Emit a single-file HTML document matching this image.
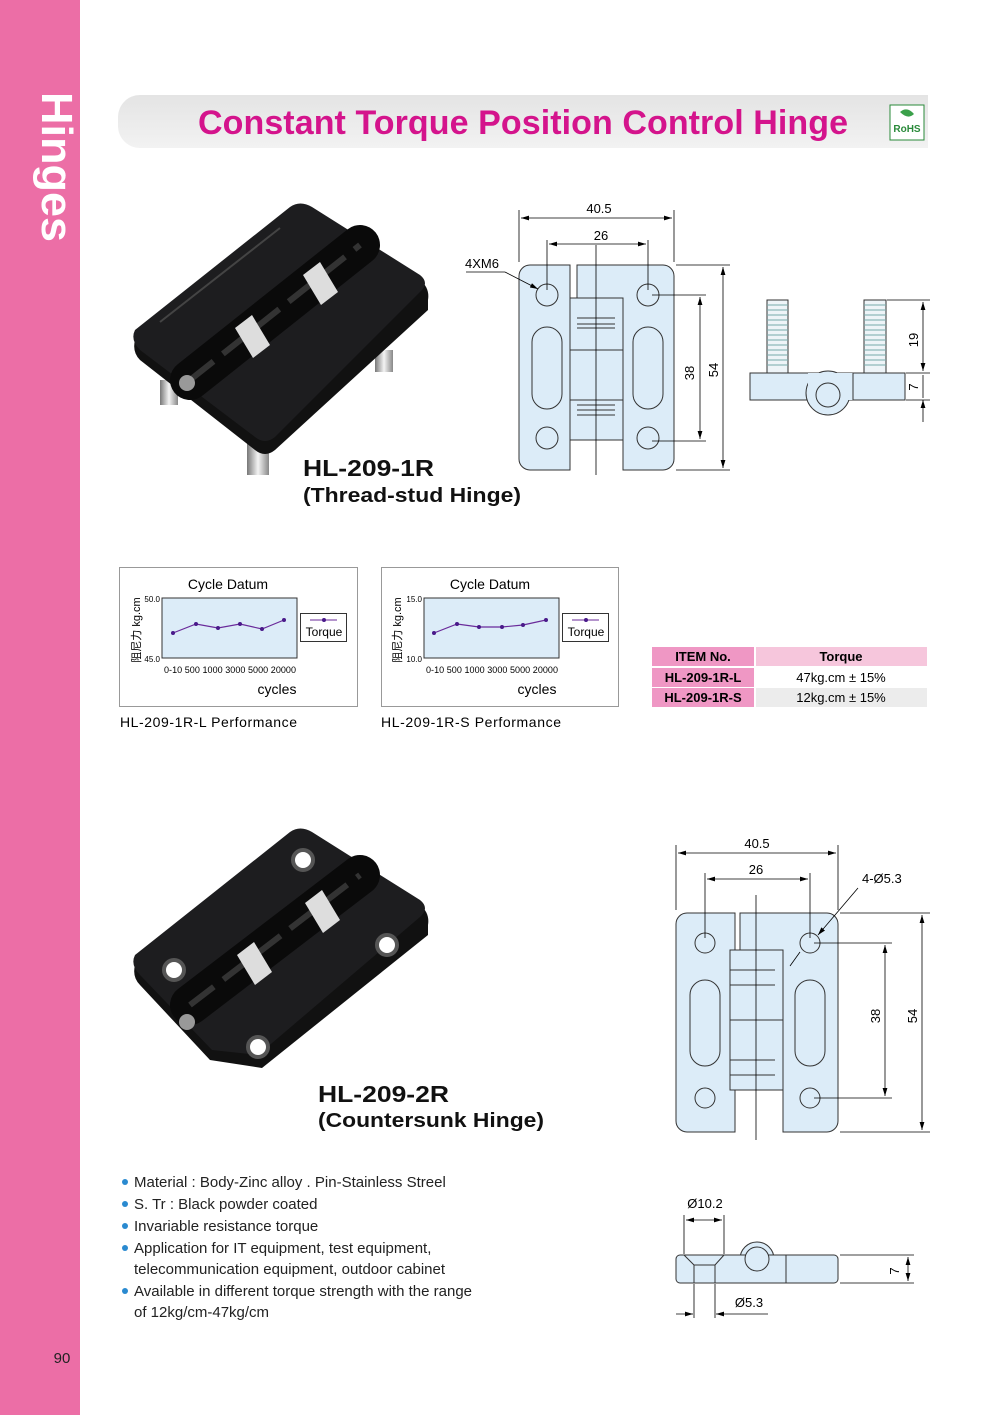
<!DOCTYPE html>
<html><head><meta charset="utf-8"><style>
html,body{margin:0;padding:0;background:#fff}
body{width:1000px;height:1415px;overflow:hidden;font-family:"Liberation Sans","Noto Sans CJK SC",sans-serif}
</style></head><body>
<svg width="1000" height="1415" viewBox="0 0 1000 1415" xmlns="http://www.w3.org/2000/svg" font-family="Liberation Sans, Noto Sans CJK SC, sans-serif">
<defs>
<linearGradient id="hg" x1="0" y1="0" x2="0" y2="1"><stop offset="0" stop-color="#e4e4e4"/><stop offset="1" stop-color="#f2f2f2"/></linearGradient>
<linearGradient id="sil" x1="0" y1="0" x2="1" y2="0"><stop offset="0" stop-color="#777"/><stop offset=".5" stop-color="#f4f4f4"/><stop offset="1" stop-color="#888"/></linearGradient>
<marker id="a" viewBox="0 0 10 6" refX="10" refY="3" markerWidth="10" markerHeight="6" orient="auto-start-reverse"><path d="M0,0L10,3L0,6z" fill="#000"/></marker>
</defs>
<rect x="0" y="0" width="80" height="1415" fill="#ec6ea6"/>
<text transform="translate(42,92) rotate(90)" font-size="44" font-weight="bold" fill="#fff" textLength="150" lengthAdjust="spacingAndGlyphs">Hinges</text>
<text x="62" y="1363" font-size="15" text-anchor="middle" fill="#222">90</text>
<path d="M140,95 H928 V148 H140 A22,22 0 0 1 118,126 V117 A22,22 0 0 1 140,95Z" fill="url(#hg)"/>
<text x="523" y="134" font-size="34" font-weight="bold" fill="#d4148c" text-anchor="middle" textLength="650">Constant Torque Position Control Hinge</text>
<rect x="890" y="105" width="34" height="35" fill="#fff" stroke="#2a8a3a" stroke-width="1"/>
<path d="M900,112 q7,-6 14,2 q-6,6 -14,-2z" fill="#3aa04a"/>
<text x="907" y="132" font-size="10" font-weight="bold" fill="#2a8a3a" text-anchor="middle">RoHS</text>

<g>
<rect x="247" y="440" width="22" height="35" fill="url(#sil)"/>
<rect x="160" y="380" width="18" height="25" fill="url(#sil)"/>
<rect x="375" y="350" width="18" height="22" fill="url(#sil)"/>
<path d="M135,340 L290,212 Q300,205 312,212 L420,280 Q430,288 428,300 L428,310 L275,450 Q265,458 255,450 L140,360 Q132,352 135,340Z" fill="#111"/>
<path d="M135,330 L290,207 Q300,200 312,207 L420,275 Q430,283 420,292 L275,437 Q265,445 255,437 L140,350 Q130,340 135,330Z" fill="#1d1d1f"/>
<line x1="160" y1="322" x2="280" y2="228" stroke="#444" stroke-width="2"/>
<line x1="190" y1="380" x2="360" y2="245" stroke="#0a0a0a" stroke-width="40" stroke-linecap="round"/>
<line x1="190" y1="380" x2="360" y2="245" stroke="#333" stroke-width="6" stroke-dasharray="30 12"/>
<polygon points="235,328 252,315 270,345 253,358" fill="#ddd"/>
<polygon points="303,275 320,262 338,292 321,305" fill="#ddd"/>
<circle cx="187" cy="383" r="8" fill="#999"/>
</g>
<text x="303" y="476" font-size="23" font-weight="bold" fill="#111" textLength="131" lengthAdjust="spacingAndGlyphs">HL-209-1R</text>
<text x="303" y="502" font-size="20" font-weight="bold" fill="#111" textLength="218" lengthAdjust="spacingAndGlyphs">(Thread-stud Hinge)</text>

<g stroke="#333" stroke-width="1" fill="#dcecf8">
<path d="M530,265 H570 V470 H530 A11,11 0 0 1 519,459 V276 A11,11 0 0 1 530,265Z"/>
<path d="M577,265 H663 A11,11 0 0 1 674,276 V459 A11,11 0 0 1 663,470 H623 V420 H577 V350 H623 V300 H577Z"/>
<rect x="570" y="298" width="53" height="52"/>
<rect x="570" y="400" width="53" height="40"/>
<rect x="570" y="350" width="53" height="50"/>
<circle cx="547" cy="295" r="11"/><circle cx="648" cy="295" r="11"/>
<circle cx="547" cy="438" r="11"/><circle cx="648" cy="438" r="11"/>
<rect x="532" y="327" width="30" height="82" rx="15"/><rect x="633" y="327" width="30" height="82" rx="15"/>
<path d="M577,318 H615 M577,324 H615 M577,328 H615 M577,405 H615 M577,410 H615 M577,415 H615" fill="none"/>
</g>
<g stroke="#000" stroke-width="0.8" fill="none">
<line x1="596" y1="245" x2="596" y2="475"/>
<line x1="519" y1="210" x2="519" y2="262"/><line x1="674" y1="210" x2="674" y2="262"/>
<line x1="521" y1="218" x2="672" y2="218" marker-start="url(#a)" marker-end="url(#a)"/>
<line x1="547" y1="240" x2="547" y2="290"/><line x1="648" y1="240" x2="648" y2="290"/>
<line x1="549" y1="244" x2="646" y2="244" marker-start="url(#a)" marker-end="url(#a)"/>
<line x1="676" y1="265" x2="730" y2="265"/><line x1="676" y1="470" x2="730" y2="470"/>
<line x1="723" y1="267" x2="723" y2="468" marker-start="url(#a)" marker-end="url(#a)"/>
<line x1="652" y1="295" x2="706" y2="295"/><line x1="652" y1="441" x2="706" y2="441"/>
<line x1="700" y1="297" x2="700" y2="439" marker-start="url(#a)" marker-end="url(#a)"/>
<line x1="466" y1="272" x2="505" y2="272"/><line x1="505" y1="272" x2="538" y2="289" marker-end="url(#a)"/>
</g>
<text x="599" y="213" font-size="13" text-anchor="middle">40.5</text>
<text x="601" y="240" font-size="13" text-anchor="middle">26</text>
<text x="465" y="268" font-size="13">4XM6</text>
<text transform="translate(694,373) rotate(-90)" font-size="13" text-anchor="middle">38</text>
<text transform="translate(718,370) rotate(-90)" font-size="13" text-anchor="middle">54</text>
<g stroke="#333" stroke-width="1" fill="#dcecf8">
<rect x="767" y="300" width="21" height="73" fill="#eef4f8"/>
<rect x="864" y="300" width="22" height="73" fill="#eef4f8"/>
<path d="M767,305 H788 M767,310 H788 M767,315 H788 M767,320 H788 M767,325 H788 M767,330 H788 M767,335 H788 M767,340 H788 M767,345 H788 M767,350 H788 M767,355 H788 M767,360 H788 M767,365 H788 M864,305 H886 M864,310 H886 M864,315 H886 M864,320 H886 M864,325 H886 M864,330 H886 M864,335 H886 M864,340 H886 M864,345 H886 M864,350 H886 M864,355 H886 M864,360 H886 M864,365 H886" stroke="#7aa"/>
<rect x="750" y="373" width="155" height="27"/>
<circle cx="828" cy="393" r="22"/>
<rect x="808" y="373" width="45" height="27" stroke="none"/>
<circle cx="828" cy="395" r="12"/>
<line x1="853" y1="373" x2="853" y2="400"/>
</g>
<g stroke="#000" stroke-width="0.8" fill="none">
<line x1="887" y1="300" x2="930" y2="300"/><line x1="906" y1="373" x2="930" y2="373"/><line x1="906" y1="400" x2="930" y2="400"/>
<line x1="923" y1="302" x2="923" y2="371" marker-start="url(#a)" marker-end="url(#a)"/>
<line x1="923" y1="375" x2="923" y2="398"/>
<line x1="923" y1="400" x2="923" y2="422" marker-start="url(#a)"/>
</g>
<text transform="translate(918,340) rotate(-90)" font-size="13" text-anchor="middle">19</text>
<text transform="translate(918,387) rotate(-90)" font-size="13" text-anchor="middle">7</text>

<g font-size="13">
<rect x="119.5" y="567.5" width="238" height="139" fill="#fff" stroke="#999"/>
<text x="228" y="589" text-anchor="middle" font-size="14">Cycle Datum</text>
<rect x="162" y="598" width="135" height="60" fill="#dcecf8" stroke="#333"/>
<text x="160" y="602" font-size="8" text-anchor="end">50.0</text>
<text x="160" y="662" font-size="8" text-anchor="end">45.0</text>
<text transform="translate(140,630) rotate(-90)" font-size="11" text-anchor="middle">阻尼力  kg.cm</text>
<polyline points="173,633 196,624 218,628 240,624 262,629 284,620" fill="none" stroke="#6a2a9a" stroke-width="1.2"/>
<g fill="#4a1a8a"><circle cx="173" cy="633" r="2"/><circle cx="196" cy="624" r="2"/><circle cx="218" cy="628" r="2"/><circle cx="240" cy="624" r="2"/><circle cx="262" cy="629" r="2"/><circle cx="284" cy="620" r="2"/></g>
<text x="230" y="673" font-size="9" text-anchor="middle" textLength="132">0-10  500  1000  3000  5000 20000</text>
<text x="277" y="694" font-size="14" text-anchor="middle">cycles</text>
<rect x="300.5" y="613.5" width="46" height="28" fill="#fff" stroke="#333"/>
<line x1="310" y1="620" x2="337" y2="620" stroke="#6a2a9a"/><circle cx="324" cy="620" r="2" fill="#4a1a8a"/>
<text x="324" y="636" font-size="12" text-anchor="middle">Torque</text>
<text x="120" y="727" font-size="14" textLength="177">HL-209-1R-L Performance</text>

<rect x="381.5" y="567.5" width="237" height="139" fill="#fff" stroke="#999"/>
<text x="490" y="589" text-anchor="middle" font-size="14">Cycle Datum</text>
<rect x="424" y="598" width="135" height="60" fill="#dcecf8" stroke="#333"/>
<text x="422" y="602" font-size="8" text-anchor="end">15.0</text>
<text x="422" y="662" font-size="8" text-anchor="end">10.0</text>
<text transform="translate(401,630) rotate(-90)" font-size="11" text-anchor="middle">阻尼力  kg.cm</text>
<polyline points="434,633 457,624 479,627 502,627 523,625 546,620" fill="none" stroke="#6a2a9a" stroke-width="1.2"/>
<g fill="#4a1a8a"><circle cx="434" cy="633" r="2"/><circle cx="457" cy="624" r="2"/><circle cx="479" cy="627" r="2"/><circle cx="502" cy="627" r="2"/><circle cx="523" cy="625" r="2"/><circle cx="546" cy="620" r="2"/></g>
<text x="492" y="673" font-size="9" text-anchor="middle" textLength="132">0-10  500  1000  3000  5000 20000</text>
<text x="537" y="694" font-size="14" text-anchor="middle">cycles</text>
<rect x="562.5" y="613.5" width="46" height="28" fill="#fff" stroke="#333"/>
<line x1="572" y1="620" x2="599" y2="620" stroke="#6a2a9a"/><circle cx="586" cy="620" r="2" fill="#4a1a8a"/>
<text x="586" y="636" font-size="12" text-anchor="middle">Torque</text>
<text x="381" y="727" font-size="14" textLength="180">HL-209-1R-S Performance</text>
</g>

<rect x="652" y="647" width="102" height="19" fill="#ef97c4"/>
<rect x="756" y="647" width="171" height="19" fill="#f6c6dc"/>
<rect x="652" y="668" width="102" height="19" fill="#ef97c4"/>
<rect x="756" y="668" width="171" height="19" fill="#fff"/>
<rect x="652" y="688" width="102" height="19" fill="#ef97c4"/>
<rect x="756" y="688" width="171" height="19" fill="#ececec"/>
<g font-size="13" text-anchor="middle">
<text x="703" y="661" font-weight="bold">ITEM No.</text>
<text x="841" y="661" font-weight="bold">Torque</text>
<text x="703" y="682" font-weight="bold">HL-209-1R-L</text>
<text x="841" y="682">47kg.cm ± 15%</text>
<text x="703" y="702" font-weight="bold">HL-209-1R-S</text>
<text x="841" y="702">12kg.cm ± 15%</text>
</g>

<g>
<path d="M135,965 L290,837 Q300,830 312,837 L420,905 Q430,913 428,925 L428,935 L262,1068 L210,1060 L140,985 Q132,977 135,965Z" fill="#111"/>
<path d="M135,955 L290,832 Q300,825 312,832 L420,900 Q430,908 420,917 L258,1055 L212,1050 L140,975 Q130,965 135,955Z" fill="#1d1d1f"/>
<line x1="190" y1="1005" x2="360" y2="875" stroke="#0a0a0a" stroke-width="40" stroke-linecap="round"/>
<line x1="190" y1="1005" x2="360" y2="875" stroke="#333" stroke-width="6" stroke-dasharray="30 12"/>
<polygon points="237,955 254,942 272,972 255,985" fill="#ddd"/>
<polygon points="305,903 322,890 340,920 323,933" fill="#ddd"/>
<circle cx="187" cy="1022" r="8" fill="#999"/>
<g fill="#fff" stroke="#555" stroke-width="4"><circle cx="303" cy="860" r="10"/><circle cx="387" cy="945" r="10"/><circle cx="174" cy="970" r="10"/><circle cx="258" cy="1047" r="10"/></g>
</g>
<text x="318" y="1102" font-size="23" font-weight="bold" fill="#111" textLength="131" lengthAdjust="spacingAndGlyphs">HL-209-2R</text>
<text x="318" y="1127" font-size="20" font-weight="bold" fill="#111" textLength="226" lengthAdjust="spacingAndGlyphs">(Countersunk Hinge)</text>

<g stroke="#333" stroke-width="1" fill="#dcecf8">
<path d="M687,913 H735 V1132 H687 A11,11 0 0 1 676,1121 V924 A11,11 0 0 1 687,913Z"/>
<path d="M740,913 H827 A11,11 0 0 1 838,924 V1121 A11,11 0 0 1 827,1132 H783 V1090 H740 V1020 H783 V950 H740Z"/>
<rect x="730" y="950" width="53" height="70"/>
<rect x="730" y="1020" width="53" height="70"/>
<circle cx="705" cy="943" r="10"/><circle cx="810" cy="943" r="10"/>
<circle cx="705" cy="1098" r="10"/><circle cx="810" cy="1098" r="10"/>
<rect x="690" y="980" width="30" height="86" rx="15"/><rect x="795" y="980" width="30" height="86" rx="15"/>
<path d="M730,970 H775 M730,985 H775 M730,1060 H775 M730,1075 H775" fill="none"/>
</g>
<g stroke="#000" stroke-width="0.8" fill="none">
<line x1="756" y1="895" x2="756" y2="1140"/>
<line x1="676" y1="845" x2="676" y2="910"/><line x1="838" y1="845" x2="838" y2="910"/>
<line x1="678" y1="853" x2="836" y2="853" marker-start="url(#a)" marker-end="url(#a)"/>
<line x1="705" y1="873" x2="705" y2="938"/><line x1="810" y1="873" x2="810" y2="938"/>
<line x1="707" y1="879" x2="808" y2="879" marker-start="url(#a)" marker-end="url(#a)"/>
<line x1="840" y1="913" x2="930" y2="913"/><line x1="840" y1="1132" x2="930" y2="1132"/>
<line x1="922" y1="915" x2="922" y2="1130" marker-start="url(#a)" marker-end="url(#a)"/>
<line x1="814" y1="943" x2="892" y2="943"/><line x1="814" y1="1098" x2="892" y2="1098"/>
<line x1="885" y1="945" x2="885" y2="1096" marker-start="url(#a)" marker-end="url(#a)"/>
<line x1="858" y1="888" x2="818" y2="935" marker-end="url(#a)"/><line x1="800" y1="952" x2="790" y2="966"/>
</g>
<text x="757" y="848" font-size="13" text-anchor="middle">40.5</text>
<text x="756" y="874" font-size="13" text-anchor="middle">26</text>
<text x="862" y="883" font-size="13">4-Ø5.3</text>
<text transform="translate(880,1016) rotate(-90)" font-size="13" text-anchor="middle">38</text>
<text transform="translate(917,1016) rotate(-90)" font-size="13" text-anchor="middle">54</text>
<g stroke="#333" stroke-width="1" fill="#dcecf8">
<circle cx="757" cy="1259" r="17"/>
<rect x="676" y="1255" width="162" height="28" rx="4"/>
<rect x="740" y="1256" width="34" height="22" stroke="none"/>
<circle cx="757" cy="1259" r="12"/>
<line x1="786" y1="1255" x2="786" y2="1283"/>
<path d="M684,1255 L694,1265 H715 L724,1255 M694,1265 V1283 M715,1265 V1283" fill="none"/>
</g>
<g stroke="#000" stroke-width="0.8" fill="none">
<line x1="684" y1="1215" x2="684" y2="1254"/><line x1="724" y1="1215" x2="724" y2="1254"/>
<line x1="686" y1="1220" x2="722" y2="1220" marker-start="url(#a)" marker-end="url(#a)"/>
<line x1="694" y1="1284" x2="694" y2="1318"/><line x1="715" y1="1284" x2="715" y2="1318"/>
<line x1="676" y1="1314" x2="693" y2="1314" marker-end="url(#a)"/><line x1="768" y1="1314" x2="716" y2="1314" marker-end="url(#a)"/>
<line x1="840" y1="1255" x2="914" y2="1255"/><line x1="840" y1="1283" x2="914" y2="1283"/>
<line x1="908" y1="1257" x2="908" y2="1281" marker-start="url(#a)" marker-end="url(#a)"/>
</g>
<text x="705" y="1208" font-size="13" text-anchor="middle">Ø10.2</text>
<text x="749" y="1307" font-size="13" text-anchor="middle">Ø5.3</text>
<text transform="translate(899,1271) rotate(-90)" font-size="13" text-anchor="middle">7</text>

<g font-size="15" fill="#222">
<g fill="#2a8ad0"><circle cx="125" cy="1182" r="3"/><circle cx="125" cy="1204" r="3"/><circle cx="125" cy="1226" r="3"/><circle cx="125" cy="1248" r="3"/><circle cx="125" cy="1291" r="3"/></g>
<text x="134" y="1187">Material : Body-Zinc alloy . Pin-Stainless Streel</text>
<text x="134" y="1209">S. Tr : Black powder coated</text>
<text x="134" y="1231">Invariable resistance torque</text>
<text x="134" y="1253">Application for IT equipment, test equipment,</text>
<text x="134" y="1274">telecommunication equipment, outdoor cabinet</text>
<text x="134" y="1296">Available in different torque strength with the range</text>
<text x="134" y="1317">of 12kg/cm-47kg/cm</text>
</g>
</svg>
</body></html>
